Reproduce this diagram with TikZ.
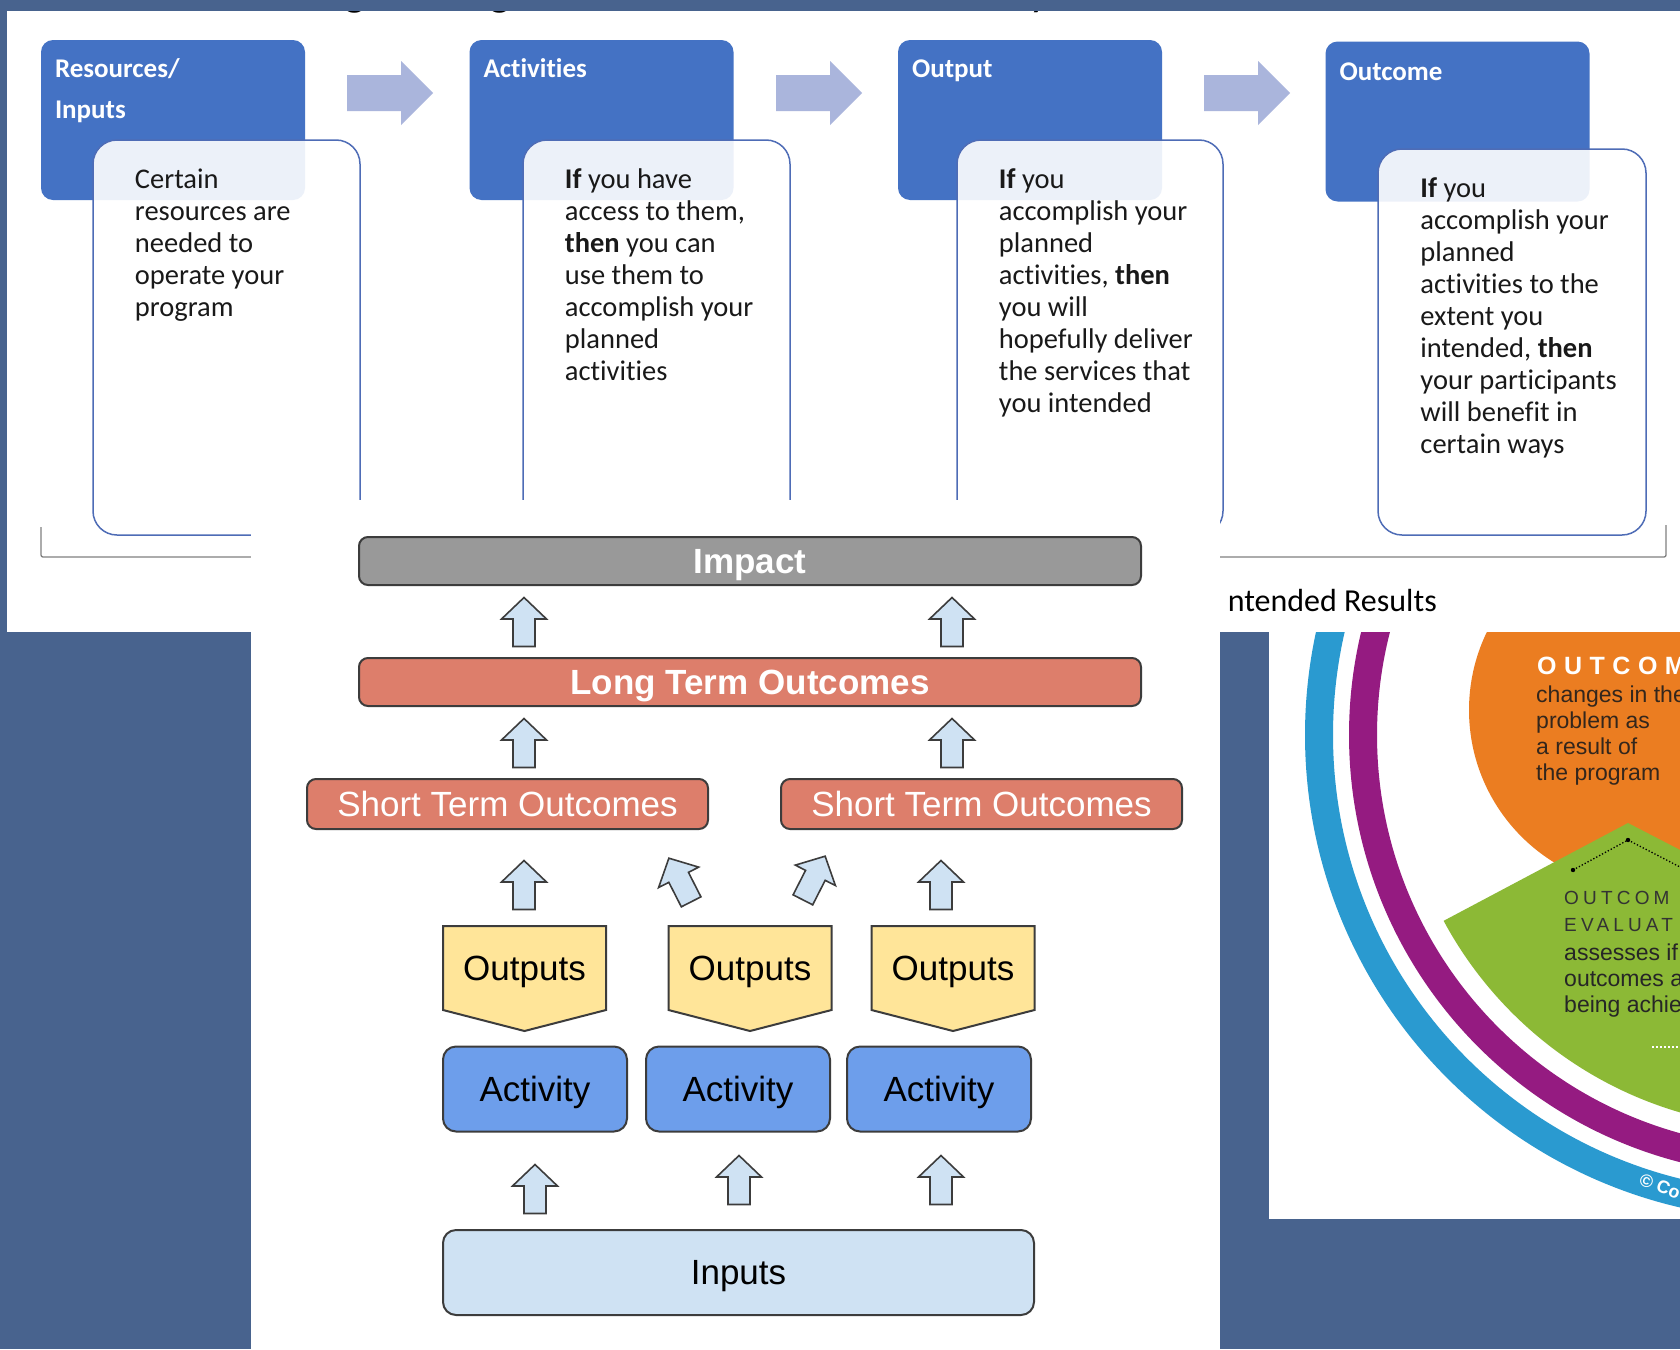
\documentclass[tikz,border=0pt]{standalone}
\usepackage{fontspec}
\setmainfont{Carlito}[Ligatures=NoCommon]
\newfontfamily\arialfont{Liberation Sans}
\newfontfamily\trackfont[LetterSpace=30]{Liberation Sans}
\newfontfamily\capsfont[LetterSpace=22]{Liberation Sans}
\usepackage{tikz}
\usetikzlibrary{positioning}

\definecolor{SlideBlue}{RGB}{72,99,142}
\definecolor{HeadBlue}{HTML}{4472C4}
\definecolor{CardLine}{HTML}{4E6CB6}
\definecolor{FlowBlue}{HTML}{AAB5DC}
\definecolor{ImpactGray}{HTML}{999999}
\definecolor{OutcomeRed}{HTML}{DD7E6B}
\definecolor{OutputYellow}{HTML}{FFE599}
\definecolor{ActivityBlue}{HTML}{6D9EEB}
\definecolor{InputBlue}{HTML}{CFE2F3}
\definecolor{EdgeGray}{HTML}{3C3C3C}
\definecolor{RingBlue}{HTML}{2A9AD0}
\definecolor{RingPurple}{HTML}{951B81}
\definecolor{CircOrange}{HTML}{EB7D21}
\definecolor{CircGreen}{HTML}{8CB936}
\definecolor{CircText}{HTML}{33261C}

\begin{document}
\begin{tikzpicture}[x=1pt,y=-1pt]
  \tikzset{HeadNode/.style = {shape = rectangle, rounded corners = 12pt, fill = HeadBlue, minimum width = 264pt, minimum height = 160pt, inner sep = 0pt}};
  \tikzset{HeadLabel/.style = {inner sep = 0pt, align = left, text = white, font = \bfseries\fontsize{27}{41}\selectfont}};
  \tikzset{CardNode/.style = {shape = rectangle, rounded corners = 24pt, draw = CardLine, line width = 1.5pt, fill = white, fill opacity = 0.9, minimum width = 267pt, minimum height = 395pt, inner sep = 0pt}};
  \tikzset{CardText/.style = {inner sep = 0pt, align = left, text = black!90, font = \fontsize{28.5}{32}\selectfont}};
  \tikzset{TitleBit/.style = {anchor = base, inner sep = 0pt, font = \fontsize{45}{50}\selectfont}};
  \tikzset{BracketLine/.style = {draw = gray, line width = 1.3pt, rounded corners = 2pt}};
  \tikzset{BarNode/.style = {shape = rectangle, rounded corners = 9pt, draw = EdgeGray, line width = 2pt, minimum height = 48pt, inner sep = 0pt, text depth = 0pt, text = white, font = \arialfont\fontsize{35}{40}\selectfont}};
  \tikzset{BoxNode/.style = {shape = rectangle, rounded corners = 13pt, draw = EdgeGray, line width = 2pt, minimum width = 184pt, minimum height = 85pt, inner sep = 0pt, text depth = 0pt, font = \arialfont\fontsize{35}{40}\selectfont}};
  \tikzset{OutputShape/.style = {fill = OutputYellow, draw = EdgeGray, line width = 2pt, line join = miter}};
  \tikzset{BlockArrow/.style = {fill = InputBlue, draw = EdgeGray, line width = 1.6pt}};
  \tikzset{pics/UpArrow/.style = {code = {\draw[BlockArrow] (-11,24.5) -- (-11,-3) -- (-22.5,-3) -- (0,-24.5) -- (22.5,-3) -- (11,-3) -- (11,24.5) -- cycle;}}};
  \tikzset{CircleText/.style = {anchor = north west, inner sep = 0pt, align = left, text = CircText, font = \arialfont\fontsize{23}{25.8}\selectfont}};

  \useasboundingbox (0,0) rectangle (1680,1349);
  \fill[SlideBlue] (0,0) rectangle (1680,1349);

  \fill[white] (7,11) rectangle (1680,632);
  \begin{scope}
    \clip (7,11) rectangle (1680,40);
    \node[TitleBit] (title g one) at (355,5.5) {g};
    \node[TitleBit] (title g two) at (500,5.5) {g};
    \node[TitleBit] (title y) at (1040,5.5) {y};
  \end{scope}

  \foreach \ax in {347,776,1204}
    \fill[FlowBlue] (\ax,75) -- (\ax+54,75) -- (\ax+54,61) -- (\ax+86,93) -- (\ax+54,125) -- (\ax+54,111) -- (\ax,111) -- cycle;

  \node[HeadNode] (res head) at (173,120) {};
  \node[HeadLabel, below right = 8.5pt and 14pt of res head.north west] (res label) {\strut Resources/\\Inputs};
  \node[CardNode] (res body) at (226.5,337.5) {};
  \node[CardText, below right = 26.6pt and 42.5pt of res body.north west] (res text) {\strut Certain\\resources are\\needed to\\operate your\\program};

  \node[HeadNode] (act head) at (601.5,120) {};
  \node[HeadLabel, below right = 8.5pt and 14pt of act head.north west] (act label) {\strut Activities};
  \node[CardNode] (act body) at (656.5,337.5) {};
  \node[CardText, below right = 26.6pt and 42.5pt of act body.north west] (act text) {\strut\textbf{If} you have\\access to them,\\\textbf{then} you can\\use them to\\accomplish your\\planned\\activities};

  \node[HeadNode] (out head) at (1030,120) {};
  \node[HeadLabel, below right = 8.5pt and 14pt of out head.north west] (out label) {\strut Output};
  \node[CardNode, minimum width = 266pt] (out body) at (1090,337.5) {};
  \node[CardText, below right = 26.6pt and 42.5pt of out body.north west] (out text) {\strut\textbf{If} you\\accomplish your\\planned\\activities, \textbf{then}\\you will\\hopefully deliver\\the services that\\you intended};

  \node[HeadNode] (end head) at (1457.5,121.5) {};
  \node[HeadLabel, below right = 10pt and 14pt of end head.north west] (end label) {\strut Outcome};
  \node[CardNode, minimum width = 268pt, minimum height = 386pt] (end body) at (1512,342) {};
  \node[CardText, below right = 26.6pt and 43pt of end body.north west] (end text) {\strut\textbf{If} you\\accomplish your\\planned\\activities to the\\extent you\\intended, \textbf{then}\\your participants\\will benefit in\\certain ways};

  \draw[BracketLine] (41,527) -- (41,557) -- (1666,557) -- (1666,525);
  \node[anchor = base east, inner sep = 0pt, font = \fontsize{32}{38}\selectfont] (results label) at (1437,611) {ntended Results};

  \begin{scope}
    \clip (1269,632) rectangle (1680,1219);
    \fill[white] (1269,632) rectangle (1680,1219);
    \draw[RingBlue, line width = 28pt] (1790,735) circle[radius = 471];
    \draw[RingPurple, line width = 28pt] (1790,735) circle[radius = 427];
    \fill[CircOrange] (1648,710) circle[radius = 179];
    \begin{scope}
      \clip (1790,735) circle[radius = 393];
      \fill[CircGreen] (1628,823) -- (1300,997) -- (1300,1400) -- (1800,1400) -- (1800,912) -- cycle;
    \end{scope}
    \draw[black, line width = 1.3pt, dotted] (1573,870) -- (1628,840) -- (1680,867);
    \fill[black] (1573,870) circle[radius = 2.2];
    \fill[black] (1628,840) circle[radius = 2.2];
    \draw[white, line width = 2pt, dotted] (1652,1047) -- (1680,1047);
    \node[anchor = base west, inner sep = 0pt, text = white, font = \trackfont\bfseries\fontsize{25}{30}\selectfont] (orange title) at (1537,674) {OUTCOM};
    \node[CircleText] (orange text) at (1536,684.4) {\strut changes in the\\problem as\\a result of\\the program};
    \node[CircleText, text = black!80, font = \capsfont\fontsize{19}{27}\selectfont] (green title) at (1564,885.1) {\strut OUTCOM\\EVALUAT};
    \node[CircleText, text = black!85, font = \arialfont\fontsize{23}{26}\selectfont] (green text) at (1564,941.8) {\strut assesses if\\outcomes a\\being achie};
    \node[anchor = base west, inner sep = 0pt, rotate = -22, text = white, font = \arialfont\bfseries\fontsize{18}{20}\selectfont] (copy note) at (1638,1184) {© Co};
  \end{scope}

  \fill[white] (251,500) rectangle (1220,1349);
  \node[BarNode, fill = ImpactGray, minimum width = 782pt, font = \arialfont\bfseries\fontsize{35}{40}\selectfont] (impact) at (750,561) {Impact};
  \node[BarNode, fill = OutcomeRed, minimum width = 782pt, font = \arialfont\bfseries\fontsize{35}{40}\selectfont] (long term) at (750,682) {Long Term Outcomes};
  \node[BarNode, fill = OutcomeRed, minimum width = 401pt, minimum height = 50pt] (short left) at (507.5,804) {Short Term Outcomes};
  \node[BarNode, fill = OutcomeRed, minimum width = 401pt, minimum height = 50pt, right = 71pt of short left] (short right) {Short Term Outcomes};

  \foreach \cx/\nm in {524.5/one, 750/two, 953/three} {
    \draw[OutputShape] (\cx-81.5,926) -- (\cx+81.5,926) -- (\cx+81.5,1010) -- (\cx,1031) -- (\cx-81.5,1010) -- cycle;
    \node[inner sep = 0pt, text depth = 0pt, font = \arialfont\fontsize{35}{40}\selectfont] (output \nm) at (\cx,968) {Outputs};
  }

  \node[BoxNode, fill = ActivityBlue] (activity one) at (535,1089) {Activity};
  \node[BoxNode, fill = ActivityBlue, right = 17pt of activity one] (activity two) {Activity};
  \node[BoxNode, fill = ActivityBlue, right = 15pt of activity two] (activity three) {Activity};
  \node[BoxNode, fill = InputBlue, minimum width = 591pt] (inputs) at (738.5,1272.5) {Inputs};

  \pic at (524,622) {UpArrow};
  \pic at (952,622) {UpArrow};
  \pic at (524,743) {UpArrow};
  \pic at (952,743) {UpArrow};
  \pic at (524,885) {UpArrow};
  \pic[rotate = 27] at (680,880) {UpArrow};
  \pic[rotate = -27] at (814,878) {UpArrow};
  \pic at (941,885) {UpArrow};
  \pic at (535,1189) {UpArrow};
  \pic at (739,1180) {UpArrow};
  \pic at (941,1180) {UpArrow};
\end{tikzpicture}
\end{document}
